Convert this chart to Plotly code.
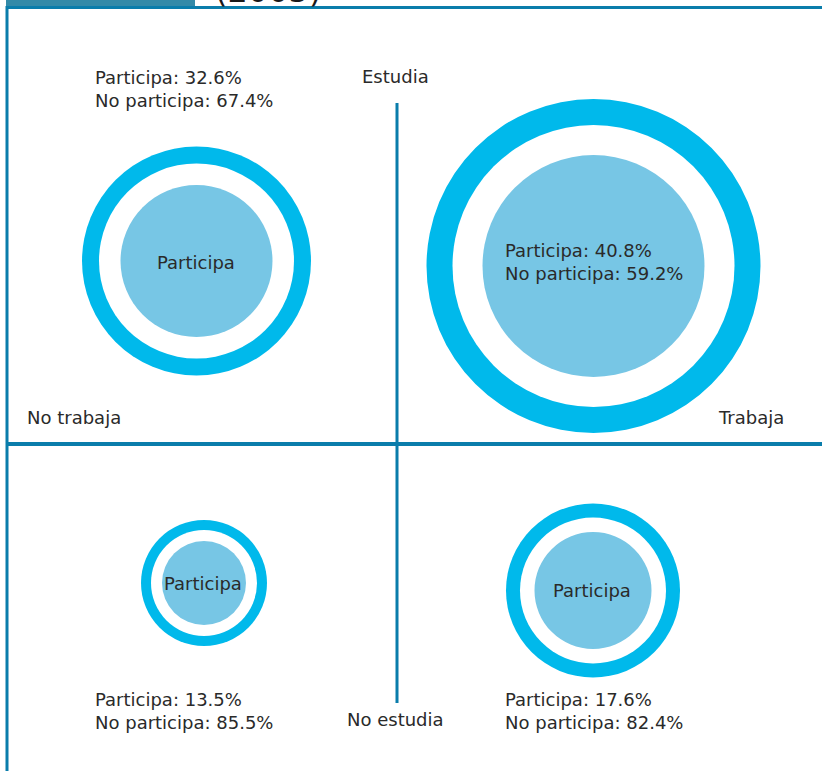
import plotly.graph_objects as go

# ---- data ----
grupos = ["Estudia / No trabaja", "Estudia / Trabaja", "No estudia / No trabaja", "No estudia / Trabaja"]
participa = [32.6, 40.8, 13.5, 17.6]
no_participa = [67.4, 59.2, 85.5, 82.4]
# relative circle sizes (radius units)
tam_total = [114.5, 167, 63, 87]
tam_hueco = [97.5, 141, 53, 73]
tam_participa = [76, 111, 42, 58.5]
etiquetas_eje = ["Estudia", "No estudia", "No trabaja", "Trabaja"]
anio = "(2005)"

# ---- layout config ----
W, H = 822, 771
centros = [(196.5, 261), (593.5, 266), (204, 583), (593, 590.5)]
pos_texto = [(93, 'top'), (503, 'in'), (93, 'bottom'), (503, 'bottom')]
RING = "#00b9eb"
FILL = "#77c6e5"
LINE = "#0a7dab"
TXT = "#2a2a2a"
FONT = "DejaVu Sans"
FS = 18

fig = go.Figure()
fig.add_trace(go.Scatter(x=[0, W], y=[0, H], mode="markers", marker=dict(opacity=0), hoverinfo="skip", showlegend=False))

shapes = []
ann = []

# frame
shapes.append(dict(type="rect", xref="x", yref="y", x0=6, x1=195, y0=-2, y1=6, fillcolor="#338aa8", line_width=0))
shapes.append(dict(type="line", xref="x", yref="y", x0=6, x1=W, y0=7.5, y1=7.5, line=dict(color=LINE, width=3)))
shapes.append(dict(type="line", xref="x", yref="y", x0=7, x1=7, y0=6, y1=H, line=dict(color=LINE, width=3)))
# quadrant axes
shapes.append(dict(type="line", xref="x", yref="y", x0=8, x1=W, y0=444, y1=444, line=dict(color=LINE, width=4)))
shapes.append(dict(type="line", xref="x", yref="y", x0=397, x1=397, y0=103, y1=703, line=dict(color=LINE, width=3)))

for i, (cx, cy) in enumerate(centros):
    for r, col in ((tam_total[i], RING), (tam_hueco[i], "white"), (tam_participa[i], FILL)):
        shapes.append(dict(type="circle", xref="x", yref="y", x0=cx - r, x1=cx + r, y0=cy - r, y1=cy + r,
                           fillcolor=col, line_width=0, layer="below"))

# text labels
def label(x, y, text, xanchor="left", size=FS):
    ann.append(dict(x=x, y=y, xref="x", yref="y", text=text, showarrow=False, xanchor=xanchor, yanchor="middle",
                    font=dict(family=FONT, size=size, color=TXT), align="left"))

for i, (cx, cy) in enumerate(centros):
    tx, modo = pos_texto[i]
    t = "Participa: %.1f%%<br>No participa: %.1f%%" % (participa[i], no_participa[i])
    if modo == 'top':
        label(tx, 89, t)
        label(cx - 1, cy + 1, "Participa", "center")
    elif modo == 'in':
        label(tx, 262, t)
    else:
        label(tx, 711, t)
        label(cx - 1, cy, "Participa", "center")

label(360, 76, etiquetas_eje[0])
label(345, 719, etiquetas_eje[1])
label(25, 417, etiquetas_eje[2])
label(716, 417, etiquetas_eje[3])

ann.append(dict(x=213, y=12, xref="x", yref="y", text=anio, showarrow=False, xanchor="left", yanchor="bottom",
                font=dict(family=FONT, size=32, color="#1a1a1a")))

fig.update_layout(
    width=W, height=H, margin=dict(l=0, r=0, t=0, b=0),
    paper_bgcolor="white", plot_bgcolor="white",
    xaxis=dict(range=[0, W], visible=False, fixedrange=True),
    yaxis=dict(range=[H, 0], visible=False, fixedrange=True),
    shapes=shapes, annotations=ann, showlegend=False,
)

fig.write_html("out.html", config={"displayModeBar": False},
               post_script="document.body.style.margin='0';")
